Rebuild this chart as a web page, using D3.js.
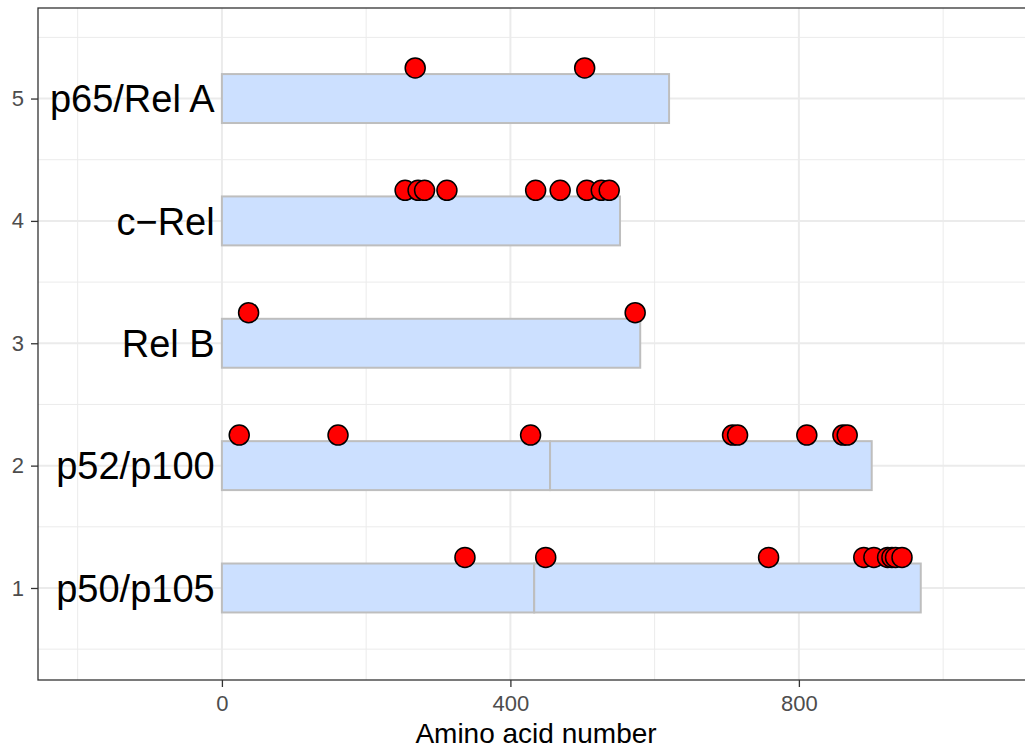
<!DOCTYPE html>
<html>
<head>
<meta charset="utf-8">
<script src="https://cdn.jsdelivr.net/npm/d3@7"></script>
<style>
body{margin:0;background:#fff;}
text{font-family:"Liberation Sans",Arial,sans-serif;}
</style>
</head>
<body>
<script>
// proteins, bottom to top (row 1..5)
var proteins = ["p50/p105","p52/p100","Rel B","c\u2212Rel","p65/Rel A"];
var rows = [1,2,3,4,5];
// bar pieces [start,end] in amino acids
var segments = [
	[[0,433],[433,969]],
	[[0,455],[455,901]],
	[[0,580]],
	[[0,552]],
	[[0,620]]
];
// phosphorylation sites (red dots)
var sites = [
	[337,449,758,890,904,923,929,934,943],
	[24,161,428,708,715,811,861,867],
	[37,573],
	[254,272,281,312,435,469,506,526,537],
	[268,503]
];
var xTicks = [0,400,800];
var xMinor = [-200,200,600,1000];
var yTicks = [1,2,3,4,5];
var yMinor = [0.5,1.5,2.5,3.5,4.5,5.5];

var WIDTH = 1025, HEIGHT = 750;
var PANEL = {left:38, top:8, right:1034, bottom:680};

var _svg = d3.select('body').append('svg')
	.attr('width',WIDTH)
	.attr('height',HEIGHT);

var _xScale = d3.scaleLinear().domain([-255,1126]).range([PANEL.left,PANEL.right]);
var _yScale = d3.scaleLinear().domain([0.248,5.74]).range([PANEL.bottom,PANEL.top]);

_svg.append('clipPath').attr('id','panel')
	.append('rect')
	.attr('x',PANEL.left).attr('y',PANEL.top)
	.attr('width',PANEL.right-PANEL.left).attr('height',PANEL.bottom-PANEL.top);

var grid = _svg.append('g').attr('clip-path','url(#panel)');

grid.selectAll('.vminor').data(xMinor).enter().append('line')
	.attr('x1',function(d){return _xScale(d)}).attr('x2',function(d){return _xScale(d)})
	.attr('y1',PANEL.top).attr('y2',PANEL.bottom)
	.attr('stroke','#ebebeb').attr('stroke-width',1);
grid.selectAll('.hminor').data(yMinor).enter().append('line')
	.attr('y1',function(d){return _yScale(d)}).attr('y2',function(d){return _yScale(d)})
	.attr('x1',PANEL.left).attr('x2',PANEL.right)
	.attr('stroke','#ebebeb').attr('stroke-width',1);
grid.selectAll('.vmajor').data(xTicks).enter().append('line')
	.attr('x1',function(d){return _xScale(d)}).attr('x2',function(d){return _xScale(d)})
	.attr('y1',PANEL.top).attr('y2',PANEL.bottom)
	.attr('stroke','#ebebeb').attr('stroke-width',2);
grid.selectAll('.hmajor').data(yTicks).enter().append('line')
	.attr('y1',function(d){return _yScale(d)}).attr('y2',function(d){return _yScale(d)})
	.attr('x1',PANEL.left).attr('x2',PANEL.right)
	.attr('stroke','#ebebeb').attr('stroke-width',2);

var g = _svg.append('g').attr('clip-path','url(#panel)');

// bars
rows.forEach(function(r,i){
	g.selectAll('.bar'+r).data(segments[i]).enter().append('rect')
		.attr('x',function(d){return _xScale(d[0])})
		.attr('width',function(d){return _xScale(d[1])-_xScale(d[0])})
		.attr('y',_yScale(r+0.2))
		.attr('height',_yScale(r-0.2)-_yScale(r+0.2))
		.attr('fill','#cce0ff')
		.attr('stroke','#bebebe')
		.attr('stroke-width',2);
});

// labels
g.selectAll('.label').data(rows).enter().append('text')
	.attr('x',_xScale(-10))
	.attr('y',function(d){return _yScale(d)})
	.attr('dy','0.36em')
	.attr('text-anchor','end')
	.attr('font-size',38)
	.attr('fill','#000')
	.text(function(d,i){return proteins[i]});

// dots
rows.forEach(function(r,i){
	g.selectAll('.dot'+r).data(sites[i]).enter().append('circle')
		.attr('cx',function(d){return _xScale(d)})
		.attr('cy',_yScale(r+0.25))
		.attr('r',10)
		.attr('fill','#ff0000')
		.attr('stroke','#000')
		.attr('stroke-width',1.5);
});

// panel border
_svg.append('rect')
	.attr('x',PANEL.left).attr('y',PANEL.top)
	.attr('width',PANEL.right-PANEL.left).attr('height',PANEL.bottom-PANEL.top)
	.attr('fill','none').attr('stroke','#333').attr('stroke-width',1.3);

// axes
var xAxis = _svg.append('g')
	.attr('transform','translate(0,'+PANEL.bottom+')')
	.call(d3.axisBottom(_xScale).tickValues(xTicks).tickSize(7).tickPadding(8));
var yAxis = _svg.append('g')
	.attr('transform','translate('+PANEL.left+',0)')
	.call(d3.axisLeft(_yScale).tickValues(yTicks).tickSize(7).tickPadding(7).tickFormat(d3.format('d')));
[xAxis,yAxis].forEach(function(a){
	a.select('.domain').remove();
	a.selectAll('.tick line').attr('stroke','#333').attr('stroke-width',1.3);
	a.selectAll('.tick text').attr('fill','#4d4d4d').attr('font-size',22)
		.attr('font-family','"Liberation Sans",Arial,sans-serif');
});

_svg.append('text')
	.attr('x',(PANEL.left+PANEL.right)/2)
	.attr('y',743)
	.attr('text-anchor','middle')
	.attr('font-size',28)
	.attr('fill','#000')
	.text('Amino acid number');
</script>
</body>
</html>
